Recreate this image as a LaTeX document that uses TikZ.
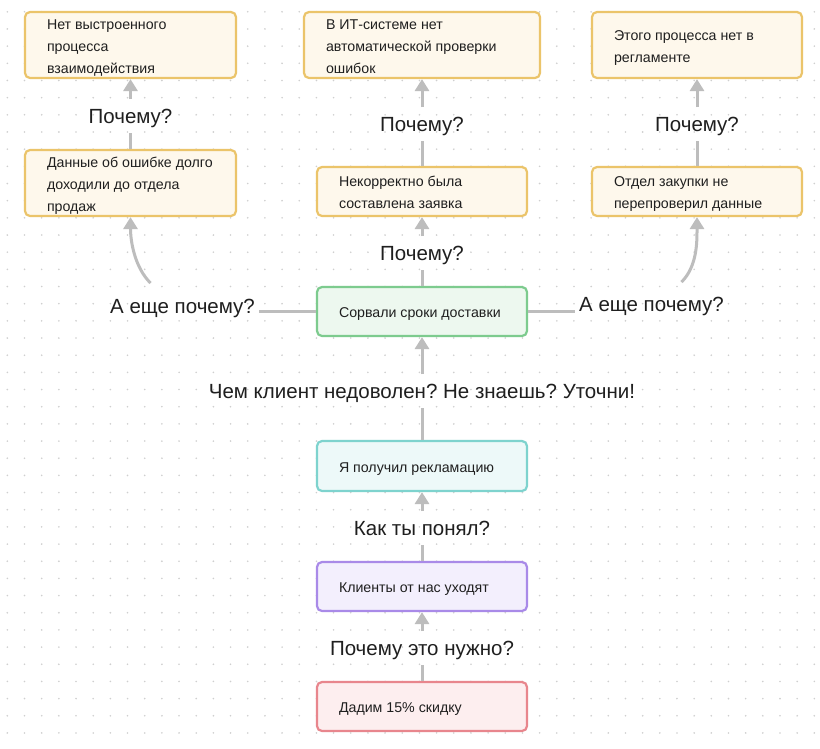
\documentclass[tikz,border=0pt]{standalone}
\usepackage{fontspec}
\setmainfont{Liberation Sans}
\frenchspacing
\usetikzlibrary{arrows.meta,calc}
\definecolor{conncol}{HTML}{BDBDBD}
\definecolor{dotcol}{HTML}{CFCFCF}
\definecolor{txtcol}{HTML}{1F1F1F}
\definecolor{yelB}{HTML}{EBC46A}
\definecolor{yelF}{HTML}{FEF8EC}
\definecolor{grnB}{HTML}{7DCB8E}
\definecolor{grnF}{HTML}{EDF8EF}
\definecolor{teaB}{HTML}{7ED3CE}
\definecolor{teaF}{HTML}{EDF9F9}
\definecolor{purB}{HTML}{A98AE8}
\definecolor{purF}{HTML}{F3EFFD}
\definecolor{redB}{HTML}{E8868D}
\definecolor{redF}{HTML}{FDEEEF}
\newcommand\boxtext[1]{\raisebox{-2pt}[\height][\depth]{\begin{tabular}{@{}l@{}}#1\end{tabular}}}
\begin{document}
\begin{tikzpicture}[x=1pt,y=-1pt,
  box/.style={draw, rounded corners=5pt, line width=2.2pt, inner xsep=22pt, inner ysep=0pt,
    text width=#1, align=flush left, text=txtcol, font=\fontsize{14.2}{22}\selectfont},
  yelbox/.style={box=#1, draw=yelB, fill=yelF},
  grnbox/.style={box=166pt, draw=grnB, fill=grnF, minimum height=49pt},
  teabox/.style={box=166pt, draw=teaB, fill=teaF, minimum height=50pt},
  purbox/.style={box=166pt, draw=purB, fill=purF, minimum height=49pt},
  redbox/.style={box=166pt, draw=redB, fill=redF, minimum height=49pt},
  lbl/.style={font=\fontsize{20.5}{24}\selectfont, text=txtcol, inner xsep=4pt, inner ysep=7pt,
    text height=17pt, text depth=2.5pt},
  conn/.style={draw=conncol, line width=3pt},
  arr/.style={conn, -{Triangle[width=14pt,length=12pt]}}
]
\fill[white] (0,0) rectangle (820,748);
\useasboundingbox (0,0) rectangle (820,748);
\foreach \i in {0,...,47}{
  \foreach \j in {0,...,43}{
    \fill[dotcol] (7.35+17.17*\i, 11.8+17.17*\j) circle (0.9);
  }
}
% boxes
\node[yelbox=167pt, minimum height=66pt] (A1) at (130.5,45)
  {\boxtext{Нет выстроенного\\процесса\\взаимодействия}};
\node[yelbox=192pt, minimum height=66pt] (B1) at (422,45)
  {\boxtext{В ИТ-системе нет\\автоматической проверки\\ошибок}};
\node[yelbox=166pt, minimum height=66pt] (C1) at (697,45)
  {\boxtext{Этого процесса нет в\\регламенте}};
\node[yelbox=167pt, minimum height=66pt] (A2) at (130.5,183)
  {\boxtext{Данные об ошибке долго\\доходили до отдела\\продаж}};
\node[yelbox=166pt, minimum height=49pt] (B2) at (422,191.5)
  {\boxtext{Некорректно была\\составлена заявка}};
\node[yelbox=166pt, minimum height=49pt] (C2) at (697,191.5)
  {\boxtext{Отдел закупки не\\перепроверил данные}};
\node[grnbox] (G) at (422,311.5) {\boxtext{Сорвали сроки доставки}};
\node[teabox] (T) at (422,466) {\boxtext{Я получил рекламацию}};
\node[purbox] (P) at (422,586.5) {\boxtext{Клиенты от нас уходят}};
\node[redbox] (R) at (422,706.5) {\boxtext{Дадим 15\% скидку}};
% labels
\node[lbl] (qA) at (130.5,116) {Почему?};
\node[lbl] (qB) at (422,124) {Почему?};
\node[lbl] (qC) at (697,124) {Почему?};
\node[lbl] (qG) at (422,253) {Почему?};
\node[lbl] (aL) at (182.5,306) {А еще почему?};
\node[lbl] (aR) at (651.5,304) {А еще почему?};
\node[lbl] (qT) at (422,391) {Чем клиент недоволен? Не знаешь? Уточни!};
\node[lbl] (qP) at (422,528) {Как ты понял?};
\node[lbl] (qR) at (422,648) {Почему это нужно?};
% connectors
\draw[conn] (R.north) -- (qR.south);
\draw[arr] (qR.north) -- (P.south);
\draw[conn] (P.north) -- (qP.south);
\draw[arr] (qP.north) -- (T.south);
\draw[conn] (T.north) -- (qT.south);
\draw[arr] (qT.north) -- (G.south);
\draw[conn] (G.north) -- (qG.south);
\draw[arr] (qG.north) -- (B2.south);
\draw[conn] (B2.north) -- (qB.south);
\draw[arr] (qB.north) -- (B1.south);
\draw[conn] (A2.north) -- (qA.south);
\draw[arr] (qA.north) -- (A1.south);
\draw[conn] (C2.north) -- (qC.south);
\draw[arr] (qC.north) -- (C1.south);
\draw[conn] (G.west) -- (G.west -| aL.east);
\draw[conn] (G.east) -- (G.east -| aR.west);
\draw[arr] (aL.north) ++(-32,-6) .. controls +(-16,-16) and +(0,24) .. (A2.south);
\draw[arr] (aR.north) ++(30,-5) .. controls +(16,-16) and +(0,24) .. (C2.south);
\end{tikzpicture}
\end{document}
